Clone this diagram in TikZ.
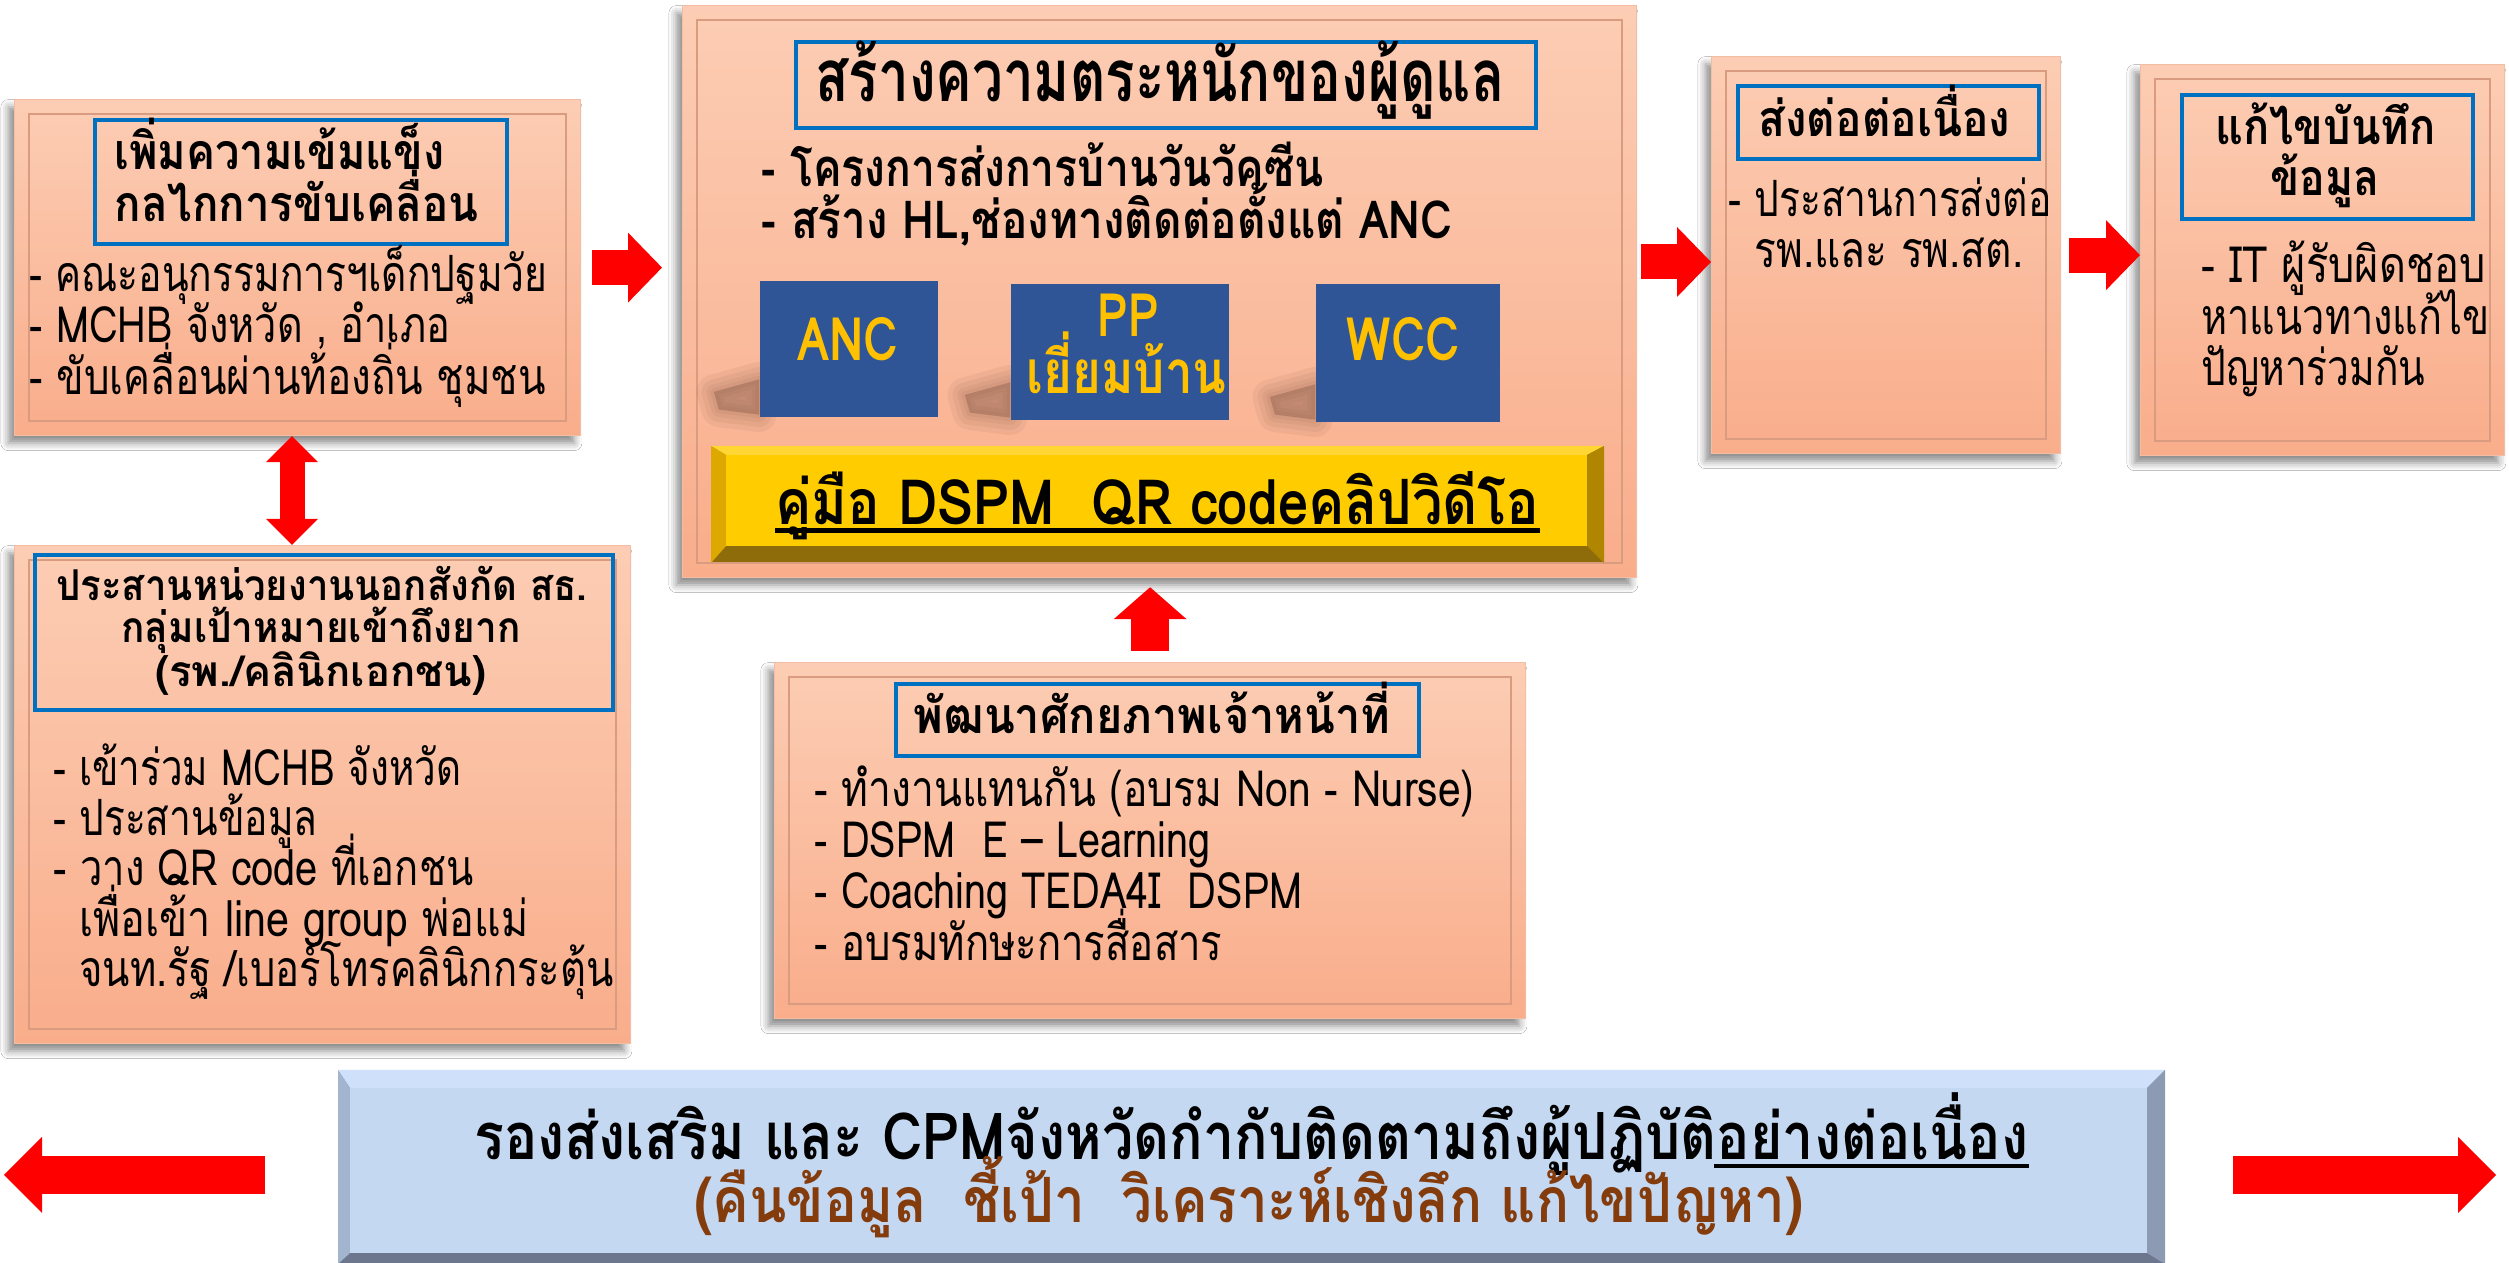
\documentclass[tikz,border=0pt]{standalone}
\usepackage{fontspec}
\usepackage{graphicx}
\setmainfont{Loma}[Script=Thai]
\usetikzlibrary{arrows.meta,shadows.blur,calc}
\definecolor{peachT}{HTML}{FCCDB4}
\definecolor{peachB}{HTML}{F9AD8B}
\definecolor{peachEdge}{HTML}{F2BDA3}
\definecolor{frameC}{HTML}{D99C80}
\definecolor{tblue}{HTML}{0070C0}
\definecolor{sqblue}{HTML}{2F5597}
\definecolor{sqtext}{HTML}{FFC000}
\definecolor{brownT}{HTML}{843C0C}
\definecolor{yface}{HTML}{FFCC00}
\definecolor{ytop}{HTML}{FFD633}
\definecolor{yleft}{HTML}{DDA800}
\definecolor{ybot}{HTML}{8F6C0A}
\definecolor{yright}{HTML}{B08500}
\definecolor{gface}{HTML}{C5D8F2}
\definecolor{gtop}{HTML}{CFE0FA}
\definecolor{gleft}{HTML}{A3B4CF}
\definecolor{gbot}{HTML}{6C778E}
\definecolor{gright}{HTML}{8D9AB3}
\definecolor{shadowC}{HTML}{7A5040}
\newcommand\rnode[6]{\node[#1, anchor=north west, inner sep=0, minimum width={(#5-#3)*0.4}, minimum height={(#6-#4)*0.4}] (#2) at (#3,#4) {};}
\newcommand\tl[6]{\pgfmathsetmacro\tlw{(#3-#2)*0.4}\node[anchor=base west, inner sep=0, #5] (#1) at (#2,#4) {\resizebox{\tlw pt}{\height}{#6}};}
\newcommand\pframe[1]{\draw[frameC, line width=0.7pt] ([shift={(6pt,-6pt)}]#1.north west) rectangle ([shift={(-6pt,6pt)}]#1.south east);}
\newcommand\sqshadow[1]{\foreach \w in {14,10,6,3,0.1}{\filldraw[shadowC, opacity=0.08, line width=\w pt, line join=round] ([yshift=15pt]#1.south west) -- ([shift={(-18pt,10pt)}]#1.south west) -- ([shift={(-16pt,3pt)}]#1.south west) -- ([yshift=1pt]#1.south west) -- cycle;}}
\tikzset{
  peachbox/.style={draw=peachEdge, line width=0.5pt, top color=peachT, bottom color=peachB,
    blur shadow={shadow xshift=-2.5pt, shadow yshift=-3pt, shadow blur radius=3pt, shadow opacity=45}},
  tbox/.style={draw=tblue, line width=1.6pt},
  sqbox/.style={fill=sqblue},
  it/.style={font=\fontsize{20}{24}\selectfont},
  hb/.style={font=\fontsize{20}{24}\selectfont\bfseries},
  hbB/.style={font=\fontsize{17}{20}\selectfont\bfseries},
  ctitle/.style={font=\fontsize{29}{32}\selectfont\bfseries},
  citem/.style={font=\fontsize{21}{24}\selectfont\bfseries},
  sqt/.style={font=\fontsize{24}{28}\selectfont\bfseries, text=sqtext},
  ytxt/.style={font=\fontsize{25}{28}\selectfont\bfseries},
  gt/.style={font=\fontsize{26}{30}\selectfont\bfseries},
  gtb/.style={font=\fontsize{25}{30}\selectfont\bfseries, text=brownT},
  arrA/.style={draw=red, line width=14pt, -{Triangle[length=13.6pt, width=28pt, line width=0pt]}},
  arrU/.style={draw=red, line width=15.2pt, -{Triangle[length=12.8pt, width=29.2pt, line width=0pt]}},
  arrD/.style={draw=red, line width=10pt, {Triangle[length=10.4pt, width=20.8pt, line width=0pt]}-{Triangle[length=10.4pt, width=20.8pt, line width=0pt]}},
  arrG/.style={draw=red, line width=15.2pt, -{Triangle[length=15.2pt, width=30.4pt, line width=0pt]}},
}
\begin{document}
\begin{tikzpicture}[x=0.4pt, y=-0.4pt]
\useasboundingbox[fill=white] (0,0) rectangle (2509,1263);
% peach boxes
\rnode{peachbox}{A}{14}{99}{580}{435}
\rnode{peachbox}{B}{14}{545}{630}{1043}
\rnode{peachbox}{C}{682}{5}{1636}{577}
\rnode{peachbox}{D}{774}{662}{1525}{1018}
\rnode{peachbox}{E}{1711}{56}{2060}{453}
\rnode{peachbox}{F}{2140}{64}{2504}{455}
\pframe{A}\pframe{B}\pframe{C}\pframe{D}\pframe{E}\pframe{F}
% title frames
\rnode{tbox}{At}{93}{118}{505}{242}
\rnode{tbox}{Bt}{33}{553}{611}{708}
\rnode{tbox}{Ct}{794}{40}{1534}{126}
\rnode{tbox}{Dt}{894}{682}{1417}{754}
\rnode{tbox}{Et}{1736}{84}{2037}{157}
\rnode{tbox}{Ft}{2180}{93}{2471}{217}
% square shadows, then squares
\coordinate (ancS) at (759,417);
\coordinate (ppS) at (1010,420);
\coordinate (wccS) at (1315,422);
\sqshadow{ancS}\sqshadow{ppS}\sqshadow{wccS}
\rnode{sqbox}{anc}{759}{281}{937}{417}
\rnode{sqbox}{pp}{1010}{284}{1228}{420}
\rnode{sqbox}{wcc}{1315}{284}{1499}{422}
% yellow bar
\rnode{fill=ybot}{Y}{711}{446}{1603}{562}
\coordinate (Ynw) at ([shift={(6pt,-3.6pt)}]Y.north west);
\coordinate (Yne) at ([shift={(-6.8pt,-3.6pt)}]Y.north east);
\coordinate (Yse) at ([shift={(-6.8pt,6.8pt)}]Y.south east);
\coordinate (Ysw) at ([shift={(6pt,6.8pt)}]Y.south west);
\fill[ytop] (Y.north west) -- (Y.north east) -- (Yne) -- (Ynw) -- cycle;
\fill[yleft] (Y.north west) -- (Ynw) -- (Ysw) -- (Y.south west) -- cycle;
\fill[yright] (Y.north east) -- (Y.south east) -- (Yse) -- (Yne) -- cycle;
\fill[yface] (Ynw) rectangle (Yse);
% bottom box
\rnode{fill=gbot}{G}{338}{1070}{2164}{1263}
\coordinate (Gnw) at ([shift={(4.8pt,-7.2pt)}]G.north west);
\coordinate (Gne) at ([shift={(-7.2pt,-7.2pt)}]G.north east);
\coordinate (Gse) at ([shift={(-7.2pt,4.4pt)}]G.south east);
\coordinate (Gsw) at ([shift={(4.8pt,4.4pt)}]G.south west);
\fill[gtop] (G.north west) -- (G.north east) -- (Gne) -- (Gnw) -- cycle;
\fill[gleft] (G.north west) -- (Gnw) -- (Gsw) -- (G.south west) -- cycle;
\fill[gright] (G.north east) -- (G.south east) -- (Gse) -- (Gne) -- cycle;
\fill[gface] (Gnw) rectangle (Gse);
% texts box A
\tl{a1}{114}{444}{170}{hb}{เพิ่มความเข้มแข็ง}
\tl{a2}{114}{478}{222}{hb}{กลไกการขับเคลื่อน}
\tl{a3}{29}{547}{292}{it}{- คณะอนุกรรมการฯเด็กปฐมวัย}
\tl{a4}{29}{450}{343}{it}{- MCHB จังหวัด , อำเภอ}
\tl{a5}{29}{545}{395}{it}{- ขับเคลื่อนผ่านท้องถิ่น ชุมชน}
% box B
\tl{b1}{56}{587}{601}{hbB}{ประสานหน่วยงานนอกสังกัด สธ.}
\tl{b2}{121}{520}{643}{hbB}{กลุ่มเป้าหมายเข้าถึงยาก}
\tl{b3}{155}{486}{687}{hbB}{(รพ./คลินิกเอกชน)}
\tl{b4}{53}{461}{786}{it}{- เข้าร่วม MCHB จังหวัด}
\tl{b5}{53}{317}{836}{it}{- ประสานข้อมูล}
\tl{b6}{53}{473}{886}{it}{- วาง QR code ที่เอกชน}
\tl{b7}{79}{528}{937}{it}{เพื่อเข้า line group พ่อแม่}
\tl{b8}{79}{613}{987}{it}{จนท.รัฐ /เบอร์โทรคลินิกกระตุ้น}
% box C
\tl{c1}{815}{1504}{102}{ctitle}{สร้างความตระหนักของผู้ดูแล}
\tl{c2}{761}{1323}{187}{citem}{- โครงการส่งการบ้านวันวัคซีน}
\tl{c3}{761}{1452}{239}{citem}{- สร้าง HL,ช่องทางติดต่อตั้งแต่ ANC}
\tl{s1}{797}{898}{361}{sqt}{ANC}
\tl{s2}{1097}{1158}{337}{sqt}{PP}
\tl{s3}{1026}{1226}{394}{sqt}{เยี่ยมบ้าน}
\tl{s4}{1346}{1459}{361}{sqt}{WCC}
\tl{y1}{775}{1539}{525}{ytxt}{คู่มือ DSPM\ \ QR codeคลิปวิดีโอ}
\draw[line width=2pt] ([yshift=-2.4pt]y1.base west) -- ([yshift=-2.4pt]y1.base east);
% box D
\tl{d1}{913}{1390}{734}{hb}{พัฒนาศักยภาพเจ้าหน้าที่}
\tl{d2}{814}{1474}{807}{it}{- ทำงานแทนกัน (อบรม Non - Nurse)}
\tl{d3}{814}{1210}{858}{it}{- DSPM\ \ E – Learning}
\tl{d4}{814}{1302}{909}{it}{- Coaching TEDA4I\ \ DSPM}
\tl{d5}{814}{1222}{961}{it}{- อบรมทักษะการสื่อสาร}
% box E
\tl{e1}{1758}{2010}{137}{hb}{ส่งต่อต่อเนื่อง}
\tl{e2}{1728}{2051}{217}{it}{- ประสานการส่งต่อ}
\tl{e3}{1754}{2023}{268}{it}{รพ.และ รพ.สต.}
% box F
\tl{f1}{2215}{2435}{145}{hb}{แก้ไขบันทึก}
\tl{f2}{2270}{2379}{196}{hb}{ข้อมูล}
\tl{f3}{2201}{2485}{283}{it}{- IT ผู้รับผิดชอบ}
\tl{f4}{2201}{2489}{335}{it}{หาแนวทางแก้ไข}
\tl{f5}{2201}{2425}{386}{it}{ปัญหาร่วมกัน}
% box G
\tl{g1}{474}{2028}{1160}{gt}{รองส่งเสริม และ CPMจังหวัดกำกับติดตามถึงผู้ปฏิบัติอย่างต่อเนื่อง}
\coordinate (ul) at (1714,1166);
\draw[line width=1.6pt] (ul) -- (g1.base east |- ul);
\tl{g2}{694}{1803}{1223}{gtb}{(คืนข้อมูล\ \ ชี้เป้า\ \ วิเคราะห์เชิงลึก แก้ไขปัญหา)}
% arrows
\coordinate (yce) at (0,262);
\coordinate (xab) at (292,0);
\coordinate (lt) at (4,1175);
\coordinate (rt) at (2496,1175);
\draw[arrA, shorten <=4.4pt, shorten >=8pt] (A.east) -- (A.east -| C.west);
\draw[arrA, shorten <=1.6pt] (C.east |- yce) -- (E.west |- yce);
\draw[arrA, shorten <=3.2pt] (E.east) -- (E.east -| F.west);
\draw[arrU, shorten <=4.4pt, shorten >=3.6pt] (D.north) -- (D.north |- C.south);
\draw[arrD] (xab |- A.south) -- (xab |- B.north);
\draw[arrG, shorten <=29.2pt] (G.west |- lt) -- (lt);
\draw[arrG, shorten <=27.2pt] (G.east |- rt) -- (rt);
\end{tikzpicture}
\end{document}
